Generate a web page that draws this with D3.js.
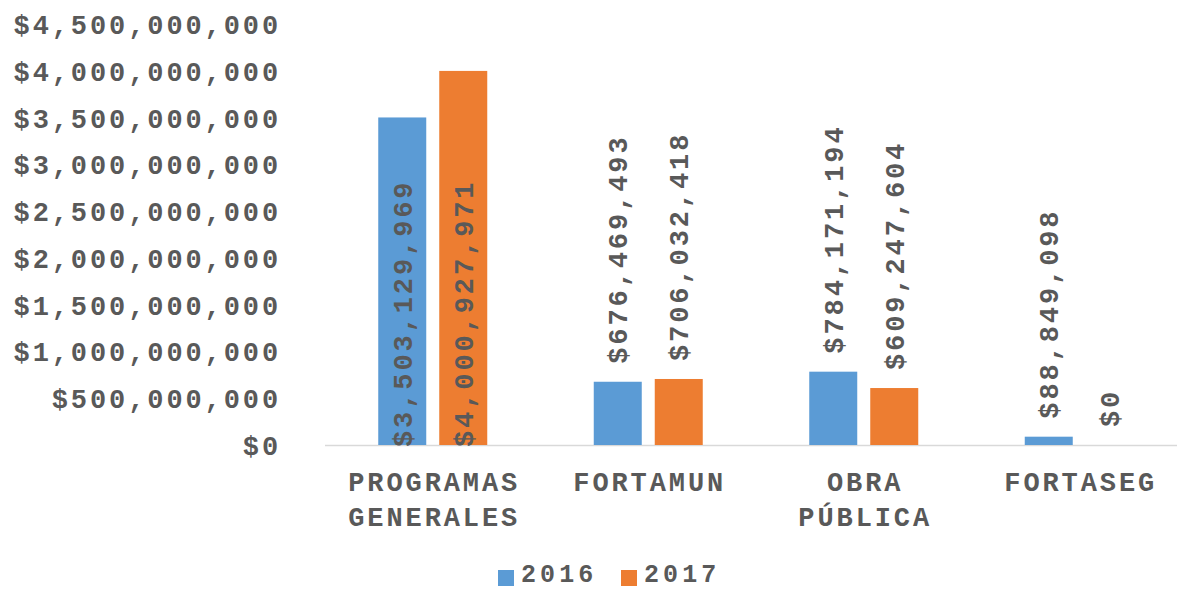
<!DOCTYPE html>
<html><head><meta charset="utf-8">
<script src="https://cdn.jsdelivr.net/npm/d3@7"></script>
<style>body{margin:0;background:#fff}svg{display:block}</style>
</head><body>
<svg id="c" width="1177" height="590"></svg>
<script>
const categories = [["PROGRAMAS","GENERALES"],["FORTAMUN"],["OBRA","PÚBLICA"],["FORTASEG"]];
const catKeys = ["PROGRAMAS GENERALES","FORTAMUN","OBRA PÚBLICA","FORTASEG"];
const seriesNames = ["2016","2017"];
const values2016 = [3503129969, 676469493, 784171194, 88849098];
const values2017 = [4000927971, 706032418, 609247604, 0];
const yTicks = [0,500000000,1000000000,1500000000,2000000000,2500000000,3000000000,3500000000,4000000000,4500000000];
const colors = ["#5B9BD5","#ED7D31"];

const FS = 27, LS = 2.9, CW = 19.1;
const font = "'Liberation Mono', 'Courier New', monospace";
const textColor = "#595959";
const svg = d3.select("#c");

const y = d3.scaleLinear().domain([0,4500000000]).range([445,24.25]);
const x = d3.scaleBand().domain(catKeys).range([325,1187]).paddingInner(0).paddingOuter(0);
const xs = d3.scaleBand().domain(seriesNames).range([-54.5,54.5]).paddingInner(13/61).paddingOuter(0);
const fmt = v => "$" + d3.format(",")(v);

function styleText(sel){
  return sel.attr("font-family",font).attr("font-weight","bold").attr("font-size",FS)
    .attr("letter-spacing",LS).attr("fill",textColor);
}

// y axis labels
const yAxis = d3.axisLeft(y).tickValues(yTicks).tickFormat(fmt).tickSize(0).tickPadding(0);
const ga = svg.append("g").attr("transform","translate(281,0)").call(yAxis);
ga.select(".domain").remove();
styleText(ga.selectAll("text")).attr("dy","0.35em");

// baseline
svg.append("line").attr("x1",325).attr("x2",1177).attr("y1",y(0)+0.5).attr("y2",y(0)+0.5)
  .attr("stroke","#D9D9D9").attr("stroke-width",1.5);

const data = [];
catKeys.forEach((c,i)=>{
  data.push({cat:c, s:"2016", v:values2016[i], col:colors[0]});
  data.push({cat:c, s:"2017", v:values2017[i], col:colors[1]});
});
const cx = d => x(d.cat) + x.bandwidth()/2 + xs(d.s);

svg.append("g").selectAll("rect").data(data).join("rect")
  .attr("x", d=>cx(d)).attr("width", xs.bandwidth())
  .attr("y", d=>y(d.v)).attr("height", d=>y(0)-y(d.v))
  .attr("fill", d=>d.col);

// value labels
svg.append("g").selectAll("text").data(data).join("text")
  .each(function(d){
    const label = fmt(d.v);
    const len = label.length*CW;
    const top = y(d.v) - 18;
    const start = (top - len < 0) ? y(0) + 2 : top;
    const px = cx(d) + xs.bandwidth()/2;
    d3.select(this).attr("transform",`translate(${px},${start}) rotate(-90)`)
      .attr("text-anchor","start").attr("dy","0.35em").text(label);
  })
  .call(styleText);

// category labels
const gc = svg.append("g");
categories.forEach((lines,i)=>{
  const t = gc.append("text").attr("text-anchor","middle")
    .attr("x", x(catKeys[i]) + x.bandwidth()/2 + LS/2).attr("y",481.5).attr("dy","0.35em");
  styleText(t);
  lines.forEach((l,j)=>{
    t.append("tspan").attr("x", x(catKeys[i]) + x.bandwidth()/2 + LS/2).attr("y",481.5+35*j).attr("dy","0.35em").text(l);
  });
});

// legend
const legX = [498, 621];
seriesNames.forEach((s,i)=>{
  svg.append("rect").attr("x",legX[i]).attr("y",570).attr("width",16).attr("height",16).attr("fill",colors[i]);
  styleText(svg.append("text").attr("x",legX[i]+23).attr("y",582).text(s))
    .attr("font-size",25).attr("letter-spacing",4.1);
});
</script>
</body></html>
